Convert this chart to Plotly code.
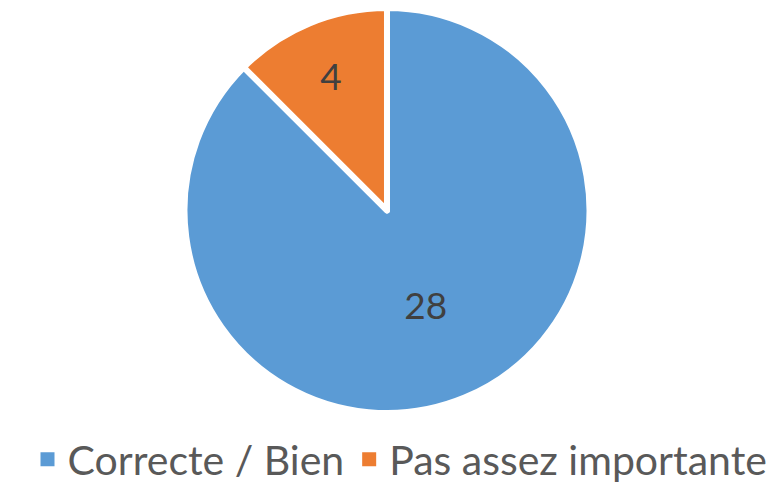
import plotly.graph_objects as go

labels = ["Correcte / Bien", "Pas assez importante"]
values = [28, 4]
colors = ["#5B9BD5", "#ED7D31"]

fig = go.Figure(
    go.Pie(
        labels=labels,
        values=values,
        sort=False,
        direction="clockwise",
        rotation=0,
        marker=dict(colors=colors, line=dict(color="white", width=6)),
        textinfo="value",
        textposition="inside",
        insidetextorientation="horizontal",
        textfont=dict(size=37, color="#404040"),
        domain=dict(x=[0.2165, 0.7503], y=[0.165, 1.0]),
        hoverinfo="label+value+percent",
        showlegend=False,
    )
)

# legend entries with bigger square swatches than the pie legend gives
for label, color in zip(labels, colors):
    fig.add_trace(
        go.Scatter(
            x=[None],
            y=[None],
            mode="markers",
            name=label,
            marker=dict(symbol="square", size=14, color=color),
            hoverinfo="skip",
        )
    )

fig.update_layout(
    width=784,
    height=485,
    margin=dict(l=0, r=0, t=0, b=0),
    paper_bgcolor="white",
    plot_bgcolor="white",
    font=dict(family="Lato, Open Sans, sans-serif", color="#595959"),
    xaxis=dict(visible=False),
    yaxis=dict(visible=False),
    showlegend=True,
    legend=dict(
        orientation="h",
        x=0.5,
        xanchor="center",
        y=0.0,
        yanchor="bottom",
        font=dict(size=41, color="#595959"),
        itemwidth=30,
    ),
)

fig.write_html("out.html")
